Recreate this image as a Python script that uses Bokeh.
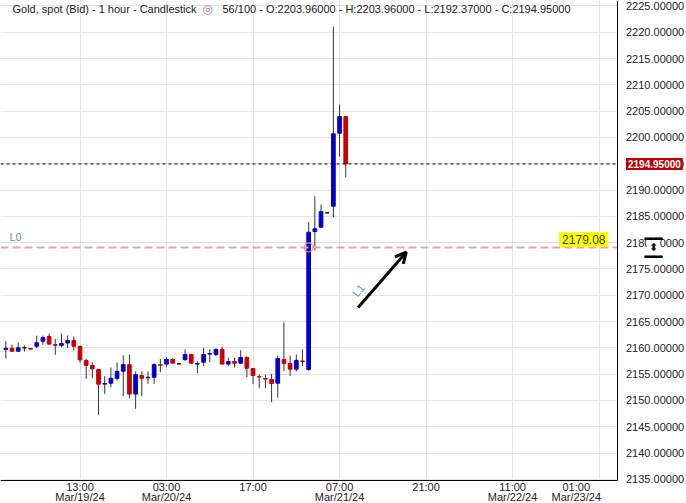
from bokeh.plotting import figure
from bokeh.models import (Range1d, FixedTicker, PrintfTickFormatter, Label,
                          Arrow, OpenHead, ColumnDataSource, BoxAnnotation)
from bokeh.embed import file_html
from bokeh.resources import INLINE

# ---------------- data ----------------
# hour offsets relative to 13:00 Mar/19/24 (one candle per hour)
hours = list(range(-12, 44))
opens = [2159.70, 2159.90, 2159.35, 2160.00, 2159.85, 2160.30, 2161.25, 2162.15, 2160.60, 2160.45,
         2160.90, 2161.40, 2160.25, 2157.60, 2156.65, 2155.87, 2153.10, 2153.27, 2154.20, 2155.55,
         2156.80, 2151.20, 2154.73, 2154.30, 2154.40, 2156.80, 2156.90, 2157.78, 2156.95, 2157.78,
         2158.73, 2156.90, 2157.26, 2158.80, 2158.73, 2159.68, 2156.90, 2157.40, 2157.08, 2158.15,
         2156.06, 2154.55, 2154.15, 2153.97, 2153.27, 2157.78, 2157.00, 2155.93, 2157.50, 2155.87,
         2182.10, 2182.93, 2185.66, 2186.92, 2200.80, 2203.96]
highs = [2161.25, 2160.60, 2161.00, 2160.40, 2159.90, 2162.30, 2162.30, 2162.70, 2161.70, 2162.70,
         2162.35, 2162.15, 2160.45, 2157.90, 2157.25, 2155.90, 2154.60, 2156.25, 2157.25, 2158.55,
         2158.70, 2155.50, 2155.50, 2155.50, 2157.05, 2157.90, 2158.15, 2158.00, 2157.00, 2159.68,
         2158.75, 2157.40, 2160.00, 2159.68, 2159.92, 2160.20, 2158.10, 2158.10, 2159.55, 2158.40,
         2156.10, 2154.92, 2154.92, 2155.05, 2158.54, 2164.87, 2158.54, 2158.73, 2159.68, 2183.88,
         2188.82, 2187.24, 2185.70, 2221.08, 2206.25, 2203.96]
lows = [2158.00, 2159.20, 2159.30, 2159.30, 2159.70, 2159.90, 2160.55, 2160.55, 2158.65, 2160.05,
        2159.95, 2159.55, 2157.15, 2154.10, 2154.20, 2147.26, 2151.25, 2152.50, 2153.80, 2150.80,
        2150.40, 2148.40, 2150.80, 2153.15, 2153.15, 2155.35, 2156.30, 2157.05, 2156.90, 2157.45,
        2156.95, 2155.17, 2156.50, 2157.26, 2158.40, 2156.85, 2156.50, 2156.30, 2157.05, 2154.40,
        2153.08, 2152.32, 2152.32, 2149.65, 2150.50, 2155.60, 2154.68, 2155.50, 2156.50, 2155.68,
        2178.50, 2182.90, 2185.60, 2184.83, 2196.37, 2192.37]
closes = [2159.90, 2159.35, 2160.00, 2160.00, 2159.75, 2160.95, 2161.95, 2160.70, 2160.50, 2160.80,
          2161.40, 2160.30, 2157.70, 2156.65, 2156.00, 2153.08, 2153.20, 2154.20, 2155.50, 2156.80,
          2151.20, 2154.90, 2154.20, 2154.40, 2156.80, 2156.70, 2157.78, 2157.08, 2156.95, 2158.73,
          2157.08, 2157.00, 2158.73, 2158.90, 2159.68, 2156.90, 2157.40, 2157.08, 2158.15, 2156.12,
          2154.73, 2154.45, 2154.05, 2153.20, 2157.97, 2157.00, 2155.93, 2157.60, 2157.40, 2181.98,
          2182.62, 2185.90, 2185.66, 2200.68, 2203.97, 2194.95]

x_tick_hours = [0, 14, 28, 42, 56, 70, 80.3]
x_tick_labels = ["13:00\nMar/19/24", "03:00\nMar/20/24", "17:00", "07:00\nMar/21/24",
                 "21:00", "11:00\nMar/22/24", "01:00\nMar/23/24"]
x_grid_hours = [0, 14, 28, 42, 56, 70, 84]
y_ticks = [2135, 2140, 2145, 2150, 2155, 2160, 2165, 2170, 2175, 2180,
           2185, 2190, 2195, 2200, 2205, 2210, 2215, 2220, 2225]

level_L0 = 2179.08
anchor_L0_hour = 37
arrow_L1 = dict(x_start=45.0, y_start=2167.65, x_end=52.8, y_end=2178.2)
title_main = "Gold, spot (Bid) - 1 hour - Candlestick"
title_count = "56/100"

# ---------------- layout helpers ----------------
W, H = 686, 503
AXIS_PX = 616.5          # pixel column of the price axis line
BASE_PY = 480            # pixel row of the time axis line
PX_PER_HOUR = 6.18
X0_PX = 79.5
PX_PER_USD = 5.26
x_start = -X0_PX / PX_PER_HOUR
x_end = x_start + W / PX_PER_HOUR
y_top = 2160 + 347.3 / PX_PER_USD
y_bot = y_top - H / PX_PER_USD


def px_x(px):
    return x_start + px / PX_PER_HOUR


def px_y(py):
    return y_top - py / PX_PER_USD


FONT = "Liberation Sans"
BLUE = "#0000c8"
RED = "#c80000"

colors = []
for o, c in zip(opens, closes):
    colors.append(BLUE if c > o else (RED if c < o else "#000000"))

src = ColumnDataSource(dict(
    x=hours, open=opens, high=highs, low=lows, close=closes,
    top=[max(o, c) for o, c in zip(opens, closes)],
    bottom=[min(o, c) for o, c in zip(opens, closes)],
    color=colors,
))

p = figure(width=W, height=H, x_range=Range1d(x_start, x_end), y_range=Range1d(y_bot, y_top),
           output_backend="svg", toolbar_location=None, y_axis_location="right",
           min_border_left=0, min_border_top=0, min_border_right=0, min_border_bottom=0,
           outline_line_color=None, background_fill_color="white", border_fill_color="white")

# grid
p.xgrid.ticker = FixedTicker(ticks=x_grid_hours)
p.xgrid.grid_line_color = "#e4e4e4"
p.ygrid.grid_line_color = "#e4e4e4"
# blank the price-scale strip and the time-scale strip (keeps grid lines out of them)
p.add_layout(BoxAnnotation(left=px_x(AXIS_PX), fill_color="white", fill_alpha=1.0,
                           line_color=None, level="underlay"))
p.add_layout(BoxAnnotation(top=px_y(BASE_PY), fill_color="white", fill_alpha=1.0,
                           line_color=None, level="underlay"))

# axes
xa = p.xaxis[0]
xa.fixed_location = px_y(BASE_PY)
xa.ticker = FixedTicker(ticks=x_tick_hours)
xa.major_label_overrides = {h: l for h, l in zip(x_tick_hours, x_tick_labels)}
xa.bounds = (x_start, px_x(AXIS_PX))
xa.axis_line_color = "black"
xa.major_tick_line_color = None
xa.minor_tick_line_color = None
xa.major_tick_out = 0
xa.major_label_standoff = 0
xa.major_label_text_font = FONT
xa.major_label_text_font_size = "11px"
xa.major_label_text_color = "#222222"
xa.major_label_text_line_height = 0.85

ya = p.yaxis[0]
ya.fixed_location = px_x(AXIS_PX)
ya.bounds = (px_y(BASE_PY), y_top)
ya.ticker = FixedTicker(ticks=y_ticks)
ya.formatter = PrintfTickFormatter(format="%.5f")
ya.axis_line_color = "black"
ya.major_tick_line_color = None
ya.minor_tick_line_color = None
ya.major_tick_out = 0
ya.major_label_standoff = 9
ya.major_label_text_font = FONT
ya.major_label_text_font_size = "11px"
ya.major_label_text_color = "#222222"

# candles
p.segment(x0="x", y0="high", x1="x", y1="low", source=src, line_color="#333333", line_width=1)
p.vbar(x="x", width=0.6, top="top", bottom="bottom", source=src,
       fill_color="color", line_color="color", line_width=1)

# level lines (stop at the price axis)
p.segment(x0=[x_start], y0=[closes[-1]], x1=[px_x(AXIS_PX)], y1=[closes[-1]],
          line_color="black", line_dash="3 3", line_width=1)
p.segment(x0=[x_start], y0=[level_L0], x1=[px_x(AXIS_PX)], y1=[level_L0],
          line_color="#f5a0a0", line_dash="8 4", line_width=2)
p.scatter(x=[anchor_L0_hour], y=[level_L0], marker="circle", size=9, fill_color=None,
          line_color="#f08aa0", line_width=1.2)

# arrow L1
p.add_layout(Arrow(end=OpenHead(size=11, line_width=3, line_color="black"),
                   line_width=3, line_color="black", **arrow_L1))
p.add_layout(Label(x=px_x(358), y=px_y(290), text="L1", angle=0.87, text_align="center",
                   text_baseline="middle", text_font=FONT, text_font_size="11px",
                   text_color="#5b8be8"))
p.add_layout(Label(x=px_x(9), y=px_y(236), text="L0", text_align="left",
                   text_baseline="middle", text_font=FONT, text_font_size="11px",
                   text_color="#5b8be8"))

# yellow level tag
p.add_layout(Label(x=px_x(608), y=px_y(239), text=f"{level_L0:.2f}", text_align="right",
                   text_baseline="middle", text_font=FONT, text_font_size="12px",
                   text_color="#3d3d00", background_fill_color="#ffff00", padding=3))

# red last-price tag on the price scale
p.add_layout(Label(x=px_x(625.5), y=closes[-1], text=f"{closes[-1]:.5f}",
                   text_align="left", text_baseline="middle", text_font=FONT,
                   text_font_size="10px", text_font_style="bold", text_color="white",
                   background_fill_color="#c00000", padding=2))

# price-scale drag icon
p.add_layout(Label(x=px_x(653), y=px_y(247), text="⬍", text_align="center",
                   text_baseline="middle", text_font="DejaVu Sans", text_font_size="11px",
                   text_color="black", background_fill_color="white", padding=2))
for py in (238.5, 256):
    p.add_layout(Label(x=px_x(653), y=px_y(py), text="━━", text_align="center",
                       text_baseline="middle", text_font="DejaVu Sans", text_font_size="15px",
                       text_color="black"))

# title
p.add_layout(Label(x=px_x(12), y=px_y(8), text=title_main, text_align="left",
                   text_baseline="middle", text_font=FONT, text_font_size="11px",
                   text_color="#222222"))
p.add_layout(Label(x=px_x(207), y=px_y(8), text="◎", text_align="center",
                   text_baseline="middle", text_font="DejaVu Sans", text_font_size="12px",
                   text_color="#888888"))
info = (f"{title_count} - O:{opens[-1]:.5f} - H:{highs[-1]:.5f} - "
        f"L:{lows[-1]:.5f} - C:{closes[-1]:.5f}")
p.add_layout(Label(x=px_x(222), y=px_y(8), text=info, text_align="left",
                   text_baseline="middle", text_font=FONT, text_font_size="11px",
                   text_color="#222222"))

open("out.html", "w").write(file_html(p, INLINE))
